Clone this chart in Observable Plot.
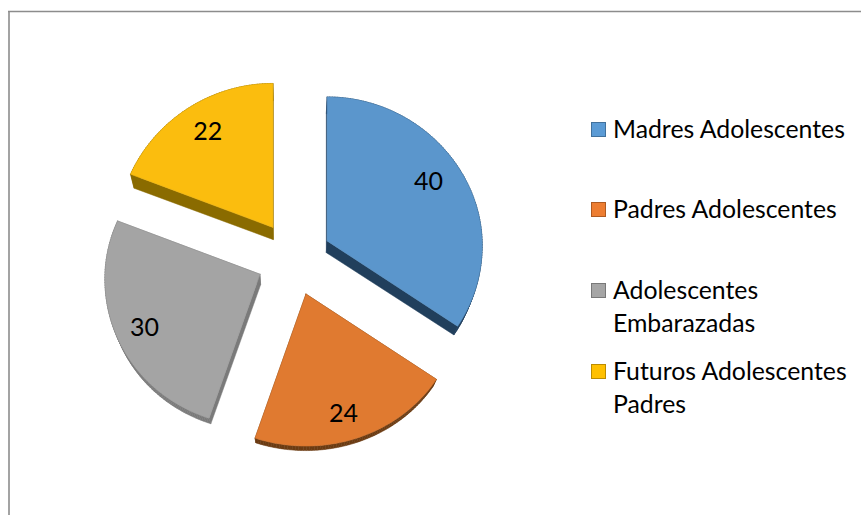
<!DOCTYPE html>
<html><head><meta charset="utf-8">
<script src="https://cdn.jsdelivr.net/npm/d3@7"></script>
<script src="https://cdn.jsdelivr.net/npm/@observablehq/plot@0.6"></script>
<style>
html,body{margin:0;padding:0;background:#fff}
#wrap{position:relative;width:861px;height:515px;overflow:hidden;font-family:Lato,sans-serif}
#wrap svg{display:block;background:#fff;position:absolute;left:0;top:0}
.lg{position:absolute;left:591px}
.sw{position:absolute;left:0;top:10px;width:13px;height:13px;border:1px solid}
.tx{position:absolute;left:22px;top:1px;white-space:nowrap;font-size:24.8px;line-height:32.5px;color:#000}
</style></head><body><div id="wrap"></div>
<script>
const categories = ["Madres Adolescentes","Padres Adolescentes","Adolescentes Embarazadas","Futuros Adolescentes Padres"];
const values = [40,24,30,22];
const faceColors = ["#5b96cc","#e07a30","#a4a4a4","#fbbd0e"];
const sideColors = ["#213f5c","#6b3b12","#7a7a7a","#8a6b00"];
const swatchFill = ["#5b9bd5","#ed7d31","#a5a5a5","#ffc000"];
const swatchEdge = ["#41719c","#ae5a21","#787878","#bc8c00"];
const legendLines = [["Madres Adolescentes"],["Padres Adolescentes"],["Adolescentes","Embarazadas"],["Futuros Adolescentes","Padres"]];

// layout of the tilted, exploded pie
const W=861,H=515,cx=293.5,cy=258,explode=37.5,rx=155,ryBack=144,ryFront=152;
const labelFrac=[[.74,.87],[.76,.83],[.82,.84],[.75,.8]];
const legendTop=[112,192,273,354];
const arcs=d3.pie().sort(null).value(d=>d).startAngle(0).endAngle(2*Math.PI)(values);
const proj=(ax,ay,t)=>{const c=Math.cos(t);return {x:ax+(1-0.03*c)*rx*Math.sin(t),y:ay-(c<0?ryFront:ryBack)*c};};
const drop=p=>({x:p.x-0.022*(p.x-290),y:p.y+0.035*(575-p.y)});
const marks=[];
arcs.forEach((a,i)=>{
  const mid=(a.startAngle+a.endAngle)/2;
  const ax=cx+explode*Math.sin(mid), ay=cy-explode*Math.cos(mid);
  const top=[{x:ax,y:ay}];
  const n=Math.ceil((a.endAngle-a.startAngle)*180/Math.PI);
  for(let k=0;k<=n;k++) top.push(proj(ax,ay,a.startAngle+(a.endAngle-a.startAngle)*k/n));
  const ring=[...top,top[0]];
  const quads=[];
  for(let k=0;k<ring.length-1;k++){
    const p=ring[k],q=ring[k+1];
    [p,q,drop(q),drop(p),p].forEach(v=>quads.push({...v,q:k}));
  }
  marks.push(Plot.line(quads,{x:"x",y:"y",z:"q",fill:sideColors[i],stroke:sideColors[i],strokeWidth:0.5,curve:"linear"}));
  marks.push(Plot.line(ring,{x:"x",y:"y",fill:faceColors[i],stroke:d3.color(faceColors[i]).darker(0.15).formatHex(),strokeWidth:0.6,curve:"linear"}));
  const m=Math.cos(mid)<0?ryFront:ryBack;
  marks.push(Plot.text([values[i]],{
    x:()=>ax+labelFrac[i][0]*rx*Math.sin(mid),
    y:()=>ay-labelFrac[i][1]*m*Math.cos(mid),
    text:d=>String(d),fontSize:25,fontFamily:"Lato",fill:"#000",textAnchor:"middle",lineAnchor:"middle"}));
});
marks.push(Plot.ruleX([8.5],{y1:11,y2:H,stroke:"#8c8c8c",strokeWidth:1.6}));
marks.push(Plot.ruleY([11],{x1:8,x2:W,stroke:"#8c8c8c",strokeWidth:1.6}));
const chart=Plot.plot({width:W,height:H,margin:0,
  x:{domain:[0,W],range:[0,W],axis:null},
  y:{domain:[0,H],range:[0,H],axis:null},
  style:{background:"#fff"},marks});
const wrap=document.getElementById("wrap");
wrap.appendChild(chart);
categories.forEach((c,i)=>{
  const g=document.createElement("div");g.className="lg";g.style.top=legendTop[i]+"px";
  const s=document.createElement("div");s.className="sw";s.style.background=swatchFill[i];s.style.borderColor=swatchEdge[i];g.appendChild(s);
  const t=document.createElement("div");t.className="tx";t.innerHTML=legendLines[i].join("<br>");g.appendChild(t);
  wrap.appendChild(g);
});
</script></body></html>
